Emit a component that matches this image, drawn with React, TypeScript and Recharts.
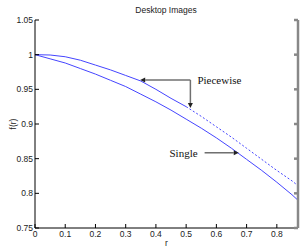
import { LineChart, Line, XAxis, YAxis, ReferenceLine } from "recharts"

// valores
const rValues = [0, 0.05, 0.1, 0.15, 0.2, 0.25, 0.3, 0.35, 0.4, 0.45, 0.5, 0.55, 0.6, 0.65, 0.7, 0.75, 0.8, 0.85, 0.87]
const piecewise = [1.0, 0.9995, 0.997, 0.992, 0.985, 0.978, 0.97, 0.962, 0.95, 0.937, 0.925, 0.911, 0.896, 0.881, 0.865, 0.849, 0.833, 0.818, 0.811]
const single = [1.0, 0.994, 0.988, 0.98, 0.972, 0.963, 0.954, 0.943, 0.932, 0.92, 0.907, 0.894, 0.88, 0.865, 0.849, 0.833, 0.816, 0.798, 0.79]
const xTicks = [0, 0.1, 0.2, 0.3, 0.4, 0.5, 0.6, 0.7, 0.8]
const yTicks = [0.75, 0.8, 0.85, 0.9, 0.95, 1, 1.05]
const splitAt = 0.5

const data = rValues.map((r, i) => ({
  r,
  pieceSolid: r <= splitAt ? piecewise[i] : null,
  pieceDotted: r >= splitAt ? piecewise[i] : null,
  single: single[i],
}))

const tickFont = { fontSize: 8.5, fontFamily: "'Liberation Sans', Arial, sans-serif", fill: "#222" }

function Arrow(props: any) {
  const { x1, y1, x2, y2, text, textSide } = props
  const dx = x2 - x1
  const dy = y2 - y1
  const len = Math.sqrt(dx * dx + dy * dy) || 1
  const ux = dx / len
  const uy = dy / len
  const hl = 5
  const hw = 2.5
  const bx = x2 - ux * hl
  const by = y2 - uy * hl
  const pts = `${x2},${y2} ${bx - uy * hw},${by + ux * hw} ${bx + uy * hw},${by - ux * hw}`
  return (
    <g>
      <line x1={x1} y1={y1} x2={bx} y2={by} stroke="#707070" strokeWidth={1.5} />
      <polygon points={pts} fill="#222" />
      {text && (
        <text
          x={textSide === "right" ? x1 + 7 : x1 - 7}
          y={y1}
          dy="0.35em"
          textAnchor={textSide === "right" ? "start" : "end"}
          style={{ fontFamily: "'Liberation Serif', 'Times New Roman', serif", fontSize: 11, fontWeight: 400 }}
          fill="#111"
          stroke="none"
        >
          {text}
        </text>
      )}
    </g>
  )
}

export default function App() {
  return (
    <div style={{ position: "absolute", left: 0, top: 0, width: 307, height: 249, background: "#fff" }}>
      <div
        style={{
          position: "absolute",
          left: 0,
          width: 332,
          top: 5,
          textAlign: "center",
          fontFamily: "'Liberation Sans', Arial, sans-serif",
          fontSize: 8.5,
          color: "#222",
        }}
      >
        Desktop Images
      </div>
      <LineChart width={307} height={249} data={data} margin={{ top: 20, right: 0, left: 0, bottom: 0 }}>
        <XAxis
          dataKey="r"
          type="number"
          domain={[0, 0.87]}
          ticks={xTicks}
          tickFormatter={(v) => `${v}`}
          height={21}
          stroke="#000"
          tickSize={-4}
          tickMargin={7}
          tick={tickFont}
          label={{ value: "r", position: "insideBottom", offset: 3, style: tickFont }}
          allowDataOverflow
        />
        <XAxis
          xAxisId="top"
          orientation="top"
          type="number"
          domain={[0, 0.87]}
          ticks={xTicks}
          height={0}
          stroke="#000"
          tickSize={-4}
          tickFormatter={() => ""}
          allowDataOverflow
        />
        <YAxis
          type="number"
          domain={[0.75, 1.05]}
          ticks={yTicks}
          width={35}
          stroke="#000"
          tickSize={-4}
          tickMargin={6}
          tick={tickFont}
          label={{ value: "f(r)", angle: -90, position: "center", dx: -5, style: tickFont }}
          allowDataOverflow
        />
        <YAxis
          yAxisId="right"
          orientation="right"
          type="number"
          domain={[0.75, 1.05]}
          ticks={yTicks}
          width={9}
          stroke="#888"
          strokeWidth={2.5}
          tickSize={-4}
          tickFormatter={() => ""}
          allowDataOverflow
        />
        <Line type="linear" dataKey="pieceSolid" stroke="#4545ff" strokeWidth={1} dot={false} isAnimationActive={false} />
        <Line
          type="linear"
          dataKey="pieceDotted"
          stroke="#4545ff"
          strokeWidth={1}
          strokeDasharray="2 2"
          dot={false}
          isAnimationActive={false}
        />
        <Line type="linear" dataKey="single" stroke="#4545ff" strokeWidth={1} dot={false} isAnimationActive={false} />
        <ReferenceLine
          segment={[{ x: 0.514, y: 0.9635 }, { x: 0.348, y: 0.9635 }]}
          shape={(p: any) => <Arrow {...p} text="Piecewise" textSide="right" />}
        />
        <ReferenceLine
          segment={[{ x: 0.514, y: 0.9635 }, { x: 0.514, y: 0.923 }]}
          shape={(p: any) => <Arrow {...p} />}
        />
        <ReferenceLine
          segment={[{ x: 0.561, y: 0.8585 }, { x: 0.674, y: 0.8585 }]}
          shape={(p: any) => <Arrow {...p} text="Single" textSide="left" />}
        />
      </LineChart>
    </div>
  )
}
